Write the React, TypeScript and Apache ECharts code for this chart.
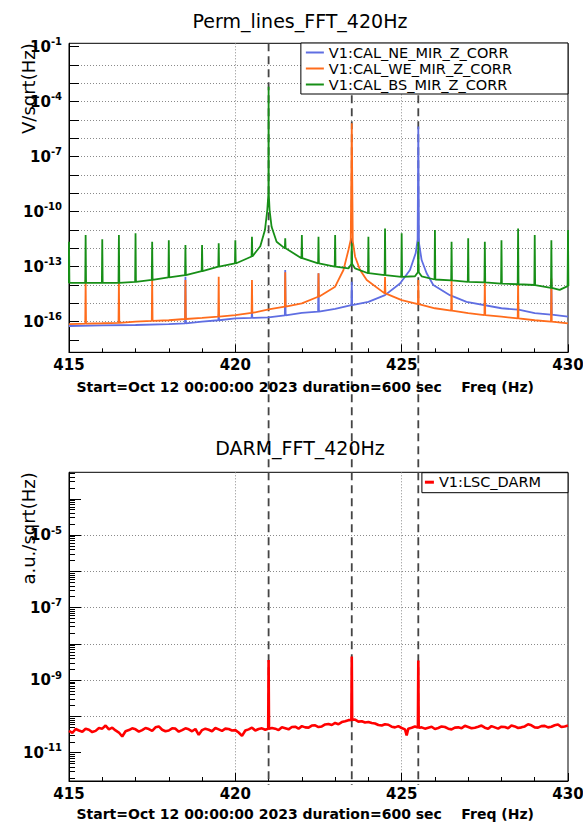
import React, { useEffect, useRef } from "react";
import * as echarts from "echarts";

// ---------------- texts ----------------
const permTitle = "Perm_lines_FFT_420Hz";
const darmTitle = "DARM_FFT_420Hz";
const xTitle = "Start=Oct 12 00:00:00 2023 duration=600 sec    Freq (Hz)";
const permYTitle = "V/sqrt(Hz)";
const darmYTitle = "a.u./sqrt(Hz)";
const neName = "V1:CAL_NE_MIR_Z_CORR";
const weName = "V1:CAL_WE_MIR_Z_CORR";
const bsName = "V1:CAL_BS_MIR_Z_CORR";
const darmName = "V1:LSC_DARM";

// ---------------- axes ----------------
const freqRange = [415, 430];
const freqTickStep = 5;
const markerFreqs = [421.0, 423.5, 425.5];
// log10 extents of the y axes
const permLogRange = [-17.67, -0.815];
const darmLogRange = [-11.78, -3.27];
const permDecades = [-17, -16, -15, -14, -13, -12, -11, -10, -9, -8, -7, -6, -5, -4, -3, -2, -1];
const permLabelExp = [-16, -13, -10, -7, -4, -1];
const darmDecades = [-11, -10, -9, -8, -7, -6, -5, -4];
const darmLabelExp = [-11, -9, -7, -5];

// ---------------- data (V/sqrt(Hz)) ----------------
// NE mirror: smooth shape points [freq, value]
const neShape = [
  [415.0, 5.8e-17], [416.0, 6.3e-17], [417.0, 6.6e-17], [418.0, 7.4e-17], [419.0, 1.0e-16],
  [420.0, 1.5e-16], [421.0, 1.7e-16], [422.0, 3.0e-16], [423.0, 5.0e-16], [424.0, 1.2e-15],
  [424.5, 2.8e-15], [424.95, 1.2e-14], [425.25, 6.6e-14], [425.42, 5.4e-13], [425.48, 3.0e-12],
  [425.5, 4.4e-6], [425.52, 2.0e-12], [425.6, 2.3e-13], [425.75, 4.4e-14], [425.95, 1.0e-14],
  [426.45, 2.8e-15], [426.95, 1.2e-15], [428.0, 5.4e-16], [429.0, 2.9e-16], [430.0, 1.9e-16],
];
// NE mirror comb lines [freq, base, top]
const neComb = [
  [418.5, 8.0e-17, 2.8e-14], [419.5, 1.2e-16, 2.5e-16], [420.5, 1.6e-16, 3.5e-16],
  [421.5, 2.2e-16, 6.6e-14], [422.5, 3.5e-16, 4.4e-14], [423.5, 8.1e-16, 1.5e-14],
  [428.5, 4.5e-16, 8.0e-16], [429.5, 2.4e-16, 1.5e-14],
];
// WE mirror
const weShape = [
  [415.0, 7.4e-17], [416.0, 8.2e-17], [417.0, 1.0e-16], [418.0, 1.2e-16], [419.0, 1.6e-16],
  [420.0, 2.3e-16], [421.0, 4.7e-16], [422.0, 1.0e-15], [423.0, 8.1e-15], [423.25, 6.6e-14],
  [423.4, 8.1e-13], [423.47, 3.0e-12], [423.5, 6.6e-6], [423.53, 2.5e-12], [423.6, 3.5e-13],
  [423.75, 6.6e-14], [423.95, 1.9e-14], [425.0, 1.5e-15], [426.0, 5.4e-16], [427.0, 2.9e-16],
  [428.0, 1.9e-16], [429.0, 1.2e-16], [430.0, 8.1e-17],
];
const weComb = [
  [415.5, 7.8e-17, 1.9e-14], [416.5, 8.7e-17, 1.9e-14], [417.5, 1.1e-16, 2.8e-14],
  [418.5, 1.4e-16, 1.9e-14], [419.5, 1.9e-16, 2.8e-14], [420.5, 3.0e-16, 1.9e-14],
  [421.5, 6.6e-16, 5.0e-14], [422.5, 2.3e-15, 4.4e-14], [424.5, 3.5e-15, 2.7e-14],
  [425.5, 9.0e-16, 1.9e-14], [426.5, 4.0e-16, 1.9e-14], [427.5, 2.3e-16, 2.3e-14],
  [428.5, 1.5e-16, 1.9e-14], [429.5, 1.0e-16, 2.3e-14],
];
// BS mirror
const bsShape = [
  [420.75, 1.3e-12], [420.89, 1.0e-11], [420.96, 1.2e-10], [420.995, 1.0e-9], [421.0, 6.6e-4],
  [421.005, 1.0e-9], [421.03, 1.2e-10], [421.09, 1.5e-11], [421.24, 2.3e-12],
  [423.4, 8.0e-14], [423.6, 8.0e-14], [425.4, 3.0e-14], [425.6, 3.0e-14], [429.75, 5.4e-15],
];
const bsComb = [
  [415.0, 1.3e-14, 2.3e-12], [415.5, 1.3e-14, 5.4e-12], [416.0, 1.3e-14, 3.1e-12],
  [416.5, 1.3e-14, 5.4e-12], [417.0, 1.5e-14, 6.6e-12], [417.5, 1.9e-14, 2.3e-12],
  [418.0, 2.6e-14, 2.8e-12], [418.5, 3.5e-14, 1.5e-12], [419.0, 5.8e-14, 1.5e-12],
  [419.5, 1.0e-13, 1.9e-12], [420.0, 1.5e-13, 2.8e-12], [420.5, 3.6e-13, 4.3e-12],
  [421.5, 1.0e-12, 3.5e-12], [422.0, 2.9e-13, 5.4e-12], [422.5, 1.5e-13, 4.3e-12],
  [423.0, 1.0e-13, 5.4e-12], [423.5, 1.4e-13, 1.9e-12], [424.0, 4.4e-14, 4.3e-12],
  [424.5, 3.5e-14, 1.2e-11], [425.0, 2.8e-14, 6.6e-12], [425.5, 5.0e-14, 2.3e-12],
  [426.0, 2.0e-14, 1.0e-11], [426.5, 1.8e-14, 2.3e-12], [427.0, 1.5e-14, 3.5e-12],
  [427.5, 1.4e-14, 2.3e-12], [428.0, 1.2e-14, 2.8e-12], [428.5, 1.1e-14, 1.2e-11],
  [429.0, 1.0e-14, 5.4e-12], [429.5, 7.0e-15, 2.8e-12], [430.0, 8.7e-15, 1.0e-11],
];

// ---------------- data (DARM, a.u./sqrt(Hz)) ----------------
const darmNoise = [
  [415.0, 4.0e-11], [415.1, 3.5e-11], [415.2, 4.5e-11], [415.3, 4.1e-11], [415.4, 3.8e-11],
  [415.5, 4.6e-11], [415.6, 4.3e-11], [415.7, 3.7e-11], [415.8, 4.0e-11], [415.9, 4.8e-11],
  [416.0, 4.6e-11], [416.1, 5.6e-11], [416.2, 4.4e-11], [416.3, 4.9e-11], [416.4, 4.1e-11],
  [416.5, 3.6e-11], [416.6, 2.8e-11], [416.7, 3.9e-11], [416.8, 4.2e-11], [416.9, 4.7e-11],
  [417.0, 4.4e-11], [417.1, 3.8e-11], [417.2, 4.2e-11], [417.3, 4.8e-11], [417.4, 4.5e-11],
  [417.5, 4.0e-11], [417.6, 5.0e-11], [417.7, 5.3e-11], [417.8, 4.3e-11], [417.9, 3.9e-11],
  [418.0, 4.1e-11], [418.1, 4.7e-11], [418.2, 4.6e-11], [418.3, 3.8e-11], [418.4, 4.2e-11],
  [418.5, 4.7e-11], [418.6, 4.4e-11], [418.7, 3.9e-11], [418.8, 4.5e-11], [418.9, 3.1e-11],
  [419.0, 4.2e-11], [419.1, 4.6e-11], [419.2, 4.3e-11], [419.3, 3.9e-11], [419.4, 4.8e-11],
  [419.5, 4.4e-11], [419.6, 4.0e-11], [419.7, 4.6e-11], [419.8, 4.5e-11], [419.9, 4.1e-11],
  [420.0, 4.2e-11], [420.1, 3.6e-11], [420.2, 2.9e-11], [420.3, 4.1e-11], [420.4, 4.4e-11],
  [420.5, 4.9e-11], [420.6, 4.1e-11], [420.7, 4.5e-11], [420.8, 4.7e-11], [420.9, 4.3e-11],
  [421.1, 4.8e-11], [421.2, 4.6e-11], [421.3, 4.2e-11], [421.4, 5.0e-11], [421.5, 4.7e-11],
  [421.6, 4.4e-11], [421.7, 5.1e-11], [421.8, 5.2e-11], [421.9, 4.6e-11],
  [422.0, 5.4e-11], [422.1, 5.0e-11], [422.2, 4.9e-11], [422.3, 5.6e-11], [422.4, 5.7e-11],
  [422.5, 5.1e-11], [422.6, 5.3e-11], [422.7, 6.0e-11], [422.8, 6.2e-11], [422.9, 5.8e-11],
  [423.0, 6.6e-11], [423.1, 6.1e-11], [423.2, 7.0e-11], [423.3, 7.4e-11], [423.4, 7.9e-11],
  [423.6, 8.2e-11], [423.7, 7.2e-11], [423.8, 7.4e-11], [423.9, 6.8e-11],
  [424.0, 7.0e-11], [424.1, 6.6e-11], [424.2, 6.4e-11], [424.3, 5.8e-11], [424.4, 5.6e-11],
  [424.5, 6.1e-11], [424.6, 5.9e-11], [424.7, 5.2e-11], [424.8, 5.0e-11], [424.9, 5.4e-11],
  [425.0, 4.8e-11], [425.1, 4.4e-11], [425.15, 3.0e-11], [425.2, 4.6e-11], [425.3, 4.9e-11],
  [425.4, 5.3e-11], [425.6, 5.0e-11], [425.7, 4.6e-11], [425.8, 4.9e-11], [425.9, 5.2e-11],
  [426.0, 4.5e-11], [426.1, 4.8e-11], [426.2, 5.3e-11], [426.3, 5.1e-11], [426.4, 4.6e-11],
  [426.5, 4.4e-11], [426.6, 4.9e-11], [426.7, 5.0e-11], [426.8, 4.7e-11], [426.9, 5.5e-11],
  [427.0, 5.1e-11], [427.1, 4.7e-11], [427.2, 4.9e-11], [427.3, 5.2e-11], [427.4, 5.6e-11],
  [427.5, 4.9e-11], [427.6, 4.6e-11], [427.7, 5.4e-11], [427.8, 5.0e-11], [427.9, 4.6e-11],
  [428.0, 5.2e-11], [428.1, 5.1e-11], [428.2, 4.7e-11], [428.3, 5.6e-11], [428.4, 5.3e-11],
  [428.5, 4.8e-11], [428.6, 5.0e-11], [428.7, 5.3e-11], [428.8, 6.1e-11], [428.9, 5.7e-11],
  [429.0, 5.0e-11], [429.1, 4.9e-11], [429.2, 5.4e-11], [429.3, 5.5e-11], [429.4, 5.0e-11],
  [429.5, 5.2e-11], [429.6, 5.7e-11], [429.7, 6.0e-11], [429.8, 5.1e-11], [429.9, 5.3e-11],
  [430.0, 5.6e-11],
];
const darmLines = [
  [421.0, 4.6e-11, 3.6e-9], [423.5, 8.0e-11, 4.5e-9], [425.5, 4.9e-11, 3.5e-9],
];

// ---------------- styles ----------------
const FONT = "DejaVu Sans";
const NE_COLOR = "#5f6ee2";
const WE_COLOR = "#ff6c1c";
const BS_COLOR = "#178f17";
const DARM_COLOR = "#ff0000";

function buildTrace(shape: number[][], comb: number[][]) {
  const pts: number[][] = shape.map(([f, v]) => [f, v]);
  for (const [f, base, top] of comb) {
    pts.push([f - 0.012, base], [f, top], [f + 0.012, base]);
  }
  pts.sort((a, b) => a[0] - b[0]);
  return pts.map(([f, v]) => [f, Math.log10(v)]);
}

const darmMinorTicks: number[] = [];
for (let n = -12; n <= -4; n++) {
  for (let k = 2; k <= 9; k++) {
    const v = n + Math.log10(k);
    if (v > darmLogRange[0] && v < darmLogRange[1]) darmMinorTicks.push(v);
  }
}

const dotted = { color: "#8a8a8a", width: 1, type: [1, 2] as any };
const black = { color: "#000", width: 1 };

const yRich = {
  b: { fontFamily: FONT, fontWeight: "bold", fontSize: 15, lineHeight: 20, color: "#000" },
  s: { fontFamily: FONT, fontWeight: "bold", fontSize: 10, lineHeight: 10, verticalAlign: "top", color: "#000" },
};
const expLabel = (v: number) => `{b|10}{s|${Math.round(v)}}`;

function xAxisFor(gridIndex: number) {
  return {
    type: "value",
    gridIndex,
    position: "bottom",
    min: freqRange[0],
    max: freqRange[1],
    interval: freqTickStep,
    axisLine: { show: true, onZero: false, lineStyle: black },
    axisTick: { show: true, inside: true, length: 8, lineStyle: black },
    minorTick: { show: true, splitNumber: 5, length: 4, lineStyle: black },
    axisLabel: { margin: 5, fontFamily: FONT, fontWeight: "bold", fontSize: 15, color: "#000" },
    splitLine: { show: true, showMinLine: false, showMaxLine: false, lineStyle: dotted },
    minorSplitLine: { show: false },
  };
}

function yMainAxis(gridIndex: number, range: number[], decades: number[], labels: number[], tickLen: number) {
  return {
    type: "value",
    gridIndex,
    position: "left",
    offset: 0,
    min: range[0],
    max: range[1],
    axisLine: { show: true, onZero: false, lineStyle: black },
    axisTick: { show: true, inside: true, length: tickLen, customValues: decades, lineStyle: black },
    axisLabel: { show: true, customValues: labels, margin: 7, formatter: expLabel, rich: yRich },
    splitLine: { show: false },
  };
}

// helper axis that only carries the dotted decade grid lines
function yGridAxis(gridIndex: number, range: number[], decades: number[]) {
  return {
    type: "value",
    gridIndex,
    position: "left",
    offset: 0,
    min: range[0],
    max: range[1],
    axisLine: { show: false },
    axisTick: { show: false, customValues: decades },
    axisLabel: { show: true, customValues: decades, formatter: () => "", margin: 0 },
    splitLine: { show: true, showMinLine: false, showMaxLine: false, lineStyle: dotted },
  };
}

function buildOption() {
  const lineSeries = (name: string, color: string, data: number[][], xi: number, yi: number, width: number) => ({
    type: "line",
    name,
    xAxisIndex: xi,
    yAxisIndex: yi,
    data,
    symbol: "none",
    showSymbol: false,
    silent: true,
    clip: true,
    lineStyle: { color, width, join: "bevel" },
    itemStyle: { color },
    emphasis: { disabled: true },
  });
  return {
    animation: false,
    backgroundColor: "#fff",
    tooltip: { show: false },
    grid: [
      { left: 69, right: 15, top: 43.3, height: 309, show: true, borderColor: "#000", borderWidth: 1, backgroundColor: "transparent", containLabel: false, outerBoundsMode: "none" },
      { left: 69, right: 15, top: 472.3, height: 308.7, show: true, borderColor: "#000", borderWidth: 1, backgroundColor: "transparent", containLabel: false, outerBoundsMode: "none" },
    ],
    xAxis: [xAxisFor(0), xAxisFor(1)],
    yAxis: [
      yMainAxis(0, permLogRange, permDecades, permLabelExp, 10),
      yMainAxis(1, darmLogRange, darmDecades, darmLabelExp, 12),
      {
        type: "value",
        gridIndex: 1,
        position: "left",
        offset: 0,
        min: darmLogRange[0],
        max: darmLogRange[1],
        axisLine: { show: false },
        axisLabel: { show: false },
        splitLine: { show: false },
        axisTick: { show: true, inside: true, length: 6, customValues: darmMinorTicks, lineStyle: black },
      },
      yGridAxis(0, permLogRange, permDecades),
      yGridAxis(1, darmLogRange, darmDecades),
    ],
    legend: [
      {
        data: [neName, weName, bsName],
        orient: "vertical",
        right: 15,
        top: 43,
        padding: [2, 56, 2, 5],
        itemGap: 1,
        itemWidth: 18,
        itemHeight: 2,
        icon: "rect",
        selectedMode: false,
        backgroundColor: "#fff",
        borderColor: "#000",
        borderWidth: 1,
        borderRadius: 0,
        z: 10,
        textStyle: { fontFamily: FONT, fontSize: 14.5, lineHeight: 15, color: "#000" },
      },
      {
        data: [darmName],
        orient: "vertical",
        right: 15,
        top: 472.7,
        padding: [2, 27, 3, 3],
        itemWidth: 9,
        itemHeight: 3,
        icon: "rect",
        selectedMode: false,
        backgroundColor: "#fff",
        borderColor: "#000",
        borderWidth: 1,
        borderRadius: 0,
        z: 10,
        textStyle: { fontFamily: FONT, fontSize: 14.5, lineHeight: 15, color: "#000" },
      },
    ],
    series: [
      lineSeries(neName, NE_COLOR, buildTrace(neShape, neComb), 0, 0, 1.8),
      lineSeries(weName, WE_COLOR, buildTrace(weShape, weComb), 0, 0, 1.8),
      lineSeries(bsName, BS_COLOR, buildTrace(bsShape, bsComb), 0, 0, 1.8),
      lineSeries(darmName, DARM_COLOR, buildTrace(darmNoise, darmLines), 1, 1, 2.6),
    ],
  };
}

function textEl(id: string, text: string, x: number, y: number, font: string, align: string, rotation = 0) {
  return {
    type: "text",
    id,
    x,
    y,
    rotation,
    silent: true,
    z: 6,
    style: {
      text,
      font,
      fill: "#000",
      textAlign: align,
      textVerticalAlign: "middle",
      align,
      verticalAlign: "middle",
    },
  };
}

export default function App() {
  const ref = useRef<HTMLDivElement>(null);
  useEffect(() => {
    if (!ref.current) return;
    document.body.style.margin = "0";
    const chart = echarts.init(ref.current, null, { renderer: "svg", width: 583, height: 822 });
    chart.setOption(buildOption() as any);

    const yTop = chart.convertToPixel({ yAxisIndex: 0 } as any, permLogRange[1]) as number;
    const yBottom = (chart.convertToPixel({ yAxisIndex: 1 } as any, darmLogRange[0]) as number) + 4;
    const markerLines = markerFreqs.map((f, i) => {
      const x = chart.convertToPixel({ xAxisIndex: 0 } as any, f) as number;
      return {
        type: "line",
        id: "marker" + i,
        silent: true,
        z: 1,
        shape: { x1: x, y1: yTop, x2: x, y2: yBottom },
        style: { stroke: "#454545", lineWidth: 1.8, lineDash: [8, 5] },
      };
    });
    const titleFont = `normal 19px ${FONT}`;
    const yTitleFont = `normal 18px ${FONT}`;
    const xTitleFont = `bold 14px ${FONT}`;
    const texts = [
      textEl("t1", permTitle, 300, 21, titleFont, "center"),
      textEl("t2", darmTitle, 300, 447.5, titleFont, "center"),
      textEl("x1", xTitle, 534, 386.5, xTitleFont, "right"),
      textEl("x2", xTitle, 534, 814, xTitleFont, "right"),
      textEl("y1", permYTitle, 28, 43.3, yTitleFont, "right", Math.PI / 2),
      textEl("y2", darmYTitle, 28, 472.3, yTitleFont, "right", Math.PI / 2),
    ];
    chart.setOption({ graphic: { elements: [...texts, ...markerLines] } } as any);
    return () => chart.dispose();
  }, []);
  return (
    <div
      ref={ref}
      style={{ position: "absolute", left: 0, top: 0, width: 583, height: 822, background: "#fff" }}
    />
  );
}
